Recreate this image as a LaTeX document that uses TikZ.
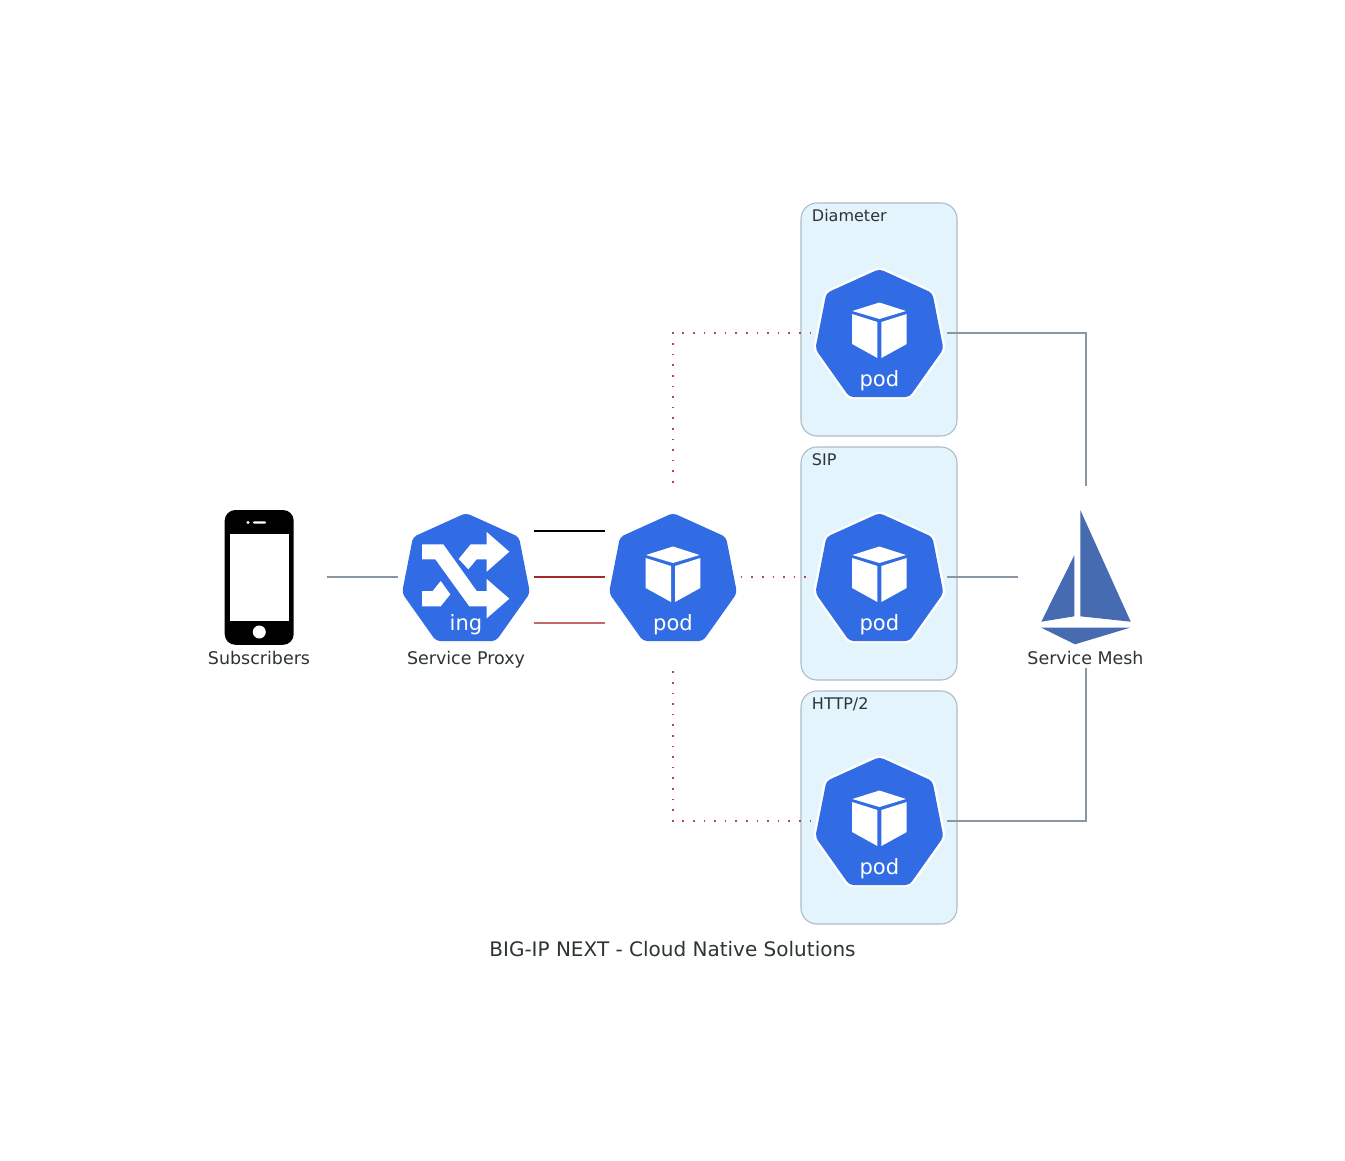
\documentclass[tikz,border=0pt]{standalone}
\usepackage{fontspec}
\setmainfont{DejaVu Sans}
\usetikzlibrary{calc}
\definecolor{kblue}{HTML}{326CE5}
\definecolor{istio}{HTML}{466BB0}
\definecolor{ink}{HTML}{2D3436}
\definecolor{clusterfill}{HTML}{E3F4FD}
\definecolor{clusterline}{HTML}{AEBBC7}
\definecolor{linkgray}{HTML}{8A96A1}
\definecolor{linkred}{HTML}{A52A2A}
\definecolor{linkrose}{HTML}{C46A6A}
\definecolor{dotred}{HTML}{B24A4A}
\tikzset{
  iconbox/.style={minimum width=101.6pt,minimum height=137pt,inner sep=0pt,outer sep=0pt},
  clusterbox/.style={draw=clusterline,fill=clusterfill,line width=0.8pt,rounded corners=12pt},
  clusterlabel/.style={anchor=base west,inner sep=0pt,text=ink,font=\fontsize{12}{14}\selectfont},
  iconlabel/.style={anchor=base,inner sep=0pt,text=ink,font=\fontsize{13.1}{15}\selectfont},
  iconword/.style={anchor=base,inner sep=0pt,text=white,font=\fontsize{15.8}{18}\selectfont},
  link/.style={draw=linkgray,line width=0.8pt},
  straightlink/.style={line width=0.8pt},
  dotlink/.style={draw=dotred,line width=0.85pt,dash pattern=on 1.3pt off 6.65pt},
  hept/.style={fill=kblue,rounded corners=3pt},
  heptline/.style={draw=white,line width=3.6pt,line join=round,rounded corners=3pt},
  whiteglyph/.style={fill=white},
}
\newcommand{\heptpath}{(0,-64)--(53,-40)--(64,16)--(30,64)--(-30,64)--(-64,16)--(-53,-40)--cycle}
\newcommand{\cubeglyph}{%
  \fill[whiteglyph] (-27,-22)--(0,-30.5)--(26.5,-22)--(0,-14)--cycle;
  \fill[whiteglyph] (-27.3,-19)--(-2,-11)--(-2,25)--(-27.3,11)--cycle;
  \fill[whiteglyph] (2,-11)--(27.3,-19)--(27.3,11)--(2,25)--cycle;
}
\newcommand{\pawnplain}[1]{\begin{scope}[shift={#1}]
  \path[hept] \heptpath;\cubeglyph
\end{scope}}
\newcommand{\pawnring}[1]{\begin{scope}[shift={#1}]
  \path[heptline] \heptpath;
  \path[hept] \heptpath;\cubeglyph
\end{scope}}
\begin{document}
\begin{tikzpicture}[x=0.75pt,y=-0.75pt]
\useasboundingbox (0,0) rectangle (1345,1160);
\fill[white] (0,0) rectangle (1345,1160);

% clusters
\draw[clusterbox] (801,203) rectangle (957,436);
\draw[clusterbox] (801,447) rectangle (957,680);
\draw[clusterbox] (801,691) rectangle (957,924);
\node[clusterlabel] (ldiam) at (811.7,221) {Diameter};
\node[clusterlabel] (lsip) at (811.7,465) {SIP};
\node[clusterlabel] (lhttp) at (811.7,709) {HTTP/2};

% anchor boxes
\node[iconbox] (phone) at (259,577) {};
\node[iconbox] (proxy) at (466,577) {};
\node[iconbox] (lb) at (673,577) {};
\node[iconbox] (diam) at (879,333) {};
\node[iconbox] (sip) at (879,577) {};
\node[iconbox] (http) at (879,821) {};
\node[iconbox] (mesh) at (1086,577) {};

% phone
\fill[black,rounded corners=8pt] (224.7,510) rectangle (293.7,644.8);
\fill[white] (230,533.6) rectangle (288.7,621.3);
\fill[white] (259.3,632) circle (6.5);
\fill[white] (248,522.5) circle (1.6);
\fill[white,rounded corners=0.7pt] (253,521.4) rectangle (266,523.6);

% ingress
\begin{scope}[shift={(466,577)}]
  \path[hept] \heptpath;
\end{scope}
\fill[whiteglyph] (422,544.3)--(443.3,544.3)--(476.7,591)--(486.7,591)--(486.7,579)--(509.3,598.7)--(486.7,618.3)--(486.7,606.3)--(469.3,606.3)--(435.3,559.3)--(422,559.3)--cycle;
\fill[whiteglyph] (486.7,544.3)--(470.7,544.3)--(458.7,559)--(468.3,569.3)--(476.7,559.3)--(486.7,559.3)--(486.7,571.7)--(509.3,551.7)--(486.7,532)--cycle;
\fill[whiteglyph] (422,591)--(432.7,591)--(440.7,581)--(450.3,594.3)--(440.7,606.3)--(422,606.3)--cycle;

% pods
\pawnplain{(673,577)}
\pawnring{(879.4,333)}
\pawnring{(879.4,577)}
\pawnring{(879.4,821)}
\node[iconword] (wing) at (466,630) {ing};
\node[iconword] (wlb) at (673,630) {pod};
\node[iconword] (wdiam) at (879.4,386) {pod};
\node[iconword] (wsip) at (879.4,630) {pod};
\node[iconword] (whttp) at (879.4,874) {pod};

% istio
\fill[istio] (1080.3,510)--(1130.7,621.7)--(1080.3,616.3)--cycle;
\fill[istio] (1074.3,555.3)--(1074.3,616.3)--(1041.3,621.7)--cycle;
\fill[istio] (1041.3,627.7)--(1130,627.7)--(1075,644.3)--cycle;

% labels
\node[iconlabel] (lphone) at (259,664) {Subscribers};
\node[iconlabel] (lproxy) at (466,664) {Service Proxy};
\node[iconlabel] (lmesh) at (1085.5,664) {Service Mesh};
\node[anchor=base,inner sep=0pt,text=ink,font=\fontsize{15}{17}\selectfont] (title) at (672.5,956) {BIG-IP NEXT - Cloud Native Solutions};

% connectors
\draw[link] (phone.east) -- (proxy.west);
\draw[straightlink,black] ([yshift=34.5pt]proxy.east) -- ([yshift=34.5pt]lb.west);
\draw[straightlink,linkred] (proxy.east) -- (lb.west);
\draw[straightlink,linkrose] ([yshift=-34.5pt]proxy.east) -- ([yshift=-34.5pt]lb.west);
\draw[dotlink] (diam.west) -| (lb.north);
\draw[dotlink] (lb.east) -- (sip.west);
\draw[dotlink] (http.west) -| (lb.south);
\draw[link] (diam.east) -| (mesh.north);
\draw[link] (sip.east) -- (mesh.west);
\draw[link] (http.east) -| (mesh.south);
\end{tikzpicture}
\end{document}
